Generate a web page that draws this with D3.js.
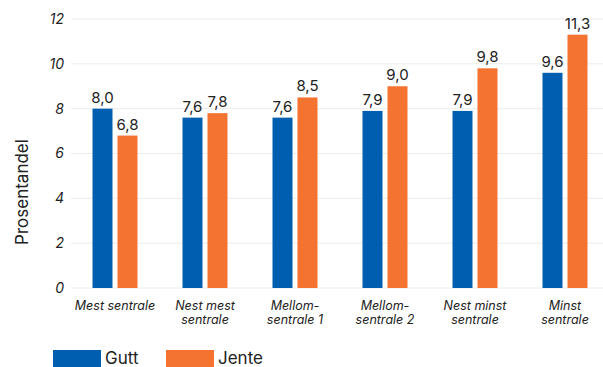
<!DOCTYPE html>
<html>
<head>
<meta charset="utf-8">
<script src="https://cdn.jsdelivr.net/npm/d3@7"></script>
<style>
  body { margin: 0; background: #fff; }
  text { font-family: Inter, "Noto Sans", sans-serif; }
</style>
</head>
<body>
<div id="chart"></div>
<script>
let width = 603, height = 367;

// data
let categories = [["Mest sentrale"], ["Nest mest", "sentrale"], ["Mellom-", "sentrale 1"],
    ["Mellom-", "sentrale 2"], ["Nest minst", "sentrale"], ["Minst", "sentrale"]];
let series = ["Gutt", "Jente"];
let gutt = [8.0, 7.6, 7.6, 7.9, 7.9, 9.6];
let jente = [6.8, 7.8, 8.5, 9.0, 9.8, 11.3];
let yTicks = [0, 2, 4, 6, 8, 10, 12];
let colors = ["#005eb0", "#f57331"];

let svg = d3.select("#chart").append("svg")
    .attr("width", width)
    .attr("height", height);

let x = d3.scaleBand()
    .domain(d3.range(categories.length))
    .range([70, 610]);

let xSub = d3.scaleBand()
    .domain(series)
    .range([-22.5, 22.5])
    .paddingInner(0.2);

let y = d3.scaleLinear()
    .domain([0, 12])
    .range([288, 19]);

// gridlines
svg.append("g")
    .selectAll("line")
    .data(yTicks)
    .enter().append("line")
    .attr("x1", 71)
    .attr("x2", 603)
    .attr("y1", d => y(d))
    .attr("y2", d => y(d))
    .attr("stroke", "#ececec")
    .attr("stroke-width", 1);

// y tick labels
svg.append("g")
    .selectAll("text")
    .data(yTicks)
    .enter().append("text")
    .attr("x", 64)
    .attr("y", d => y(d))
    .attr("dy", "0.35em")
    .attr("text-anchor", "end")
    .attr("font-size", 14)
    .attr("font-style", "italic")
    .attr("fill", "#222")
    .text(d => d);

// y axis title
svg.append("text")
    .attr("transform", "translate(28,192) rotate(-90)")
    .attr("text-anchor", "middle")
    .attr("font-size", 17)
    .attr("fill", "#222")
    .text("Prosentandel");

let rows = categories.map((c, i) => [
    { s: "Gutt", v: gutt[i], i: i, c: 0 },
    { s: "Jente", v: jente[i], i: i, c: 1 }
]).flat();

let fmt = v => d3.format(".1f")(v).replace(".", ",");

let cx = d => x(d.i) + x.bandwidth() / 2 + xSub(d.s);

svg.append("g")
    .selectAll("rect")
    .data(rows)
    .enter().append("rect")
    .attr("x", cx)
    .attr("y", d => y(d.v))
    .attr("width", xSub.bandwidth())
    .attr("height", d => y(0) - y(d.v))
    .attr("fill", d => colors[d.c]);

// value labels
svg.append("g")
    .selectAll("text")
    .data(rows)
    .enter().append("text")
    .attr("x", d => cx(d) + xSub.bandwidth() / 2)
    .attr("y", d => y(d.v) - 6)
    .attr("text-anchor", "middle")
    .attr("font-size", 15)
    .attr("fill", "#222")
    .text(d => fmt(d.v));

// category labels, one text per line
let cat = svg.append("g")
    .selectAll("g")
    .data(categories)
    .enter().append("g")
    .attr("transform", (d, i) => `translate(${x(i) + x.bandwidth() / 2},310)`);

cat.selectAll("text")
    .data(d => d)
    .enter().append("text")
    .attr("y", (d, j) => j * 14)
    .attr("text-anchor", "middle")
    .attr("font-size", 12.5)
    .attr("font-style", "italic")
    .attr("fill", "#222")
    .text(d => d);

// legend
let legend = svg.append("g")
    .selectAll("g")
    .data(series)
    .enter().append("g")
    .attr("transform", (d, i) => `translate(${53 + i * 113},350)`);

legend.append("rect")
    .attr("width", 48)
    .attr("height", 17)
    .attr("fill", (d, i) => colors[i]);

legend.append("text")
    .attr("x", 52)
    .attr("y", 8)
    .attr("dy", "0.35em")
    .attr("font-size", 17)
    .attr("fill", "#222")
    .text(d => d);
</script>
</body>
</html>
